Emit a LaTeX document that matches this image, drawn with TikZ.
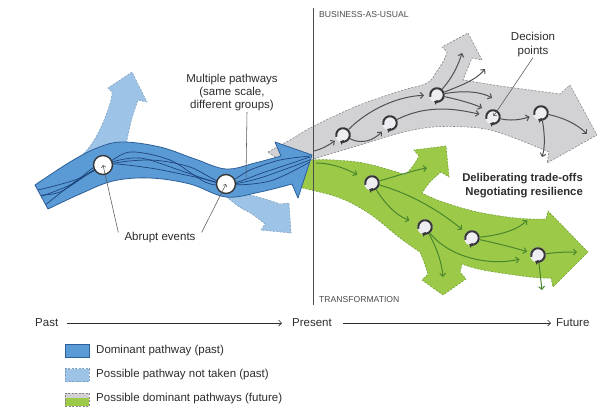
\documentclass[tikz,border=0pt]{standalone}
\usepackage{fontspec}
\setmainfont{Liberation Sans}
\usetikzlibrary{arrows.meta}
\definecolor{bandc}{RGB}{91,155,213}
\definecolor{bandedge}{RGB}{45,95,152}
\definecolor{bandline}{RGB}{30,68,125}
\definecolor{lbluec}{RGB}{157,196,230}
\definecolor{lblueedge}{RGB}{125,160,195}
\definecolor{greyc}{RGB}{210,210,212}
\definecolor{greyedge}{RGB}{135,135,138}
\definecolor{greenc}{RGB}{157,201,72}
\definecolor{greenedge}{RGB}{112,160,52}
\definecolor{garrc}{RGB}{80,80,84}
\definecolor{gnarrc}{RGB}{72,135,45}
\definecolor{cycc}{RGB}{55,55,58}
\definecolor{cycf}{RGB}{238,238,242}
\definecolor{txtc}{RGB}{45,45,45}
\newcommand\cycmark[1]{\draw[cycc,line width=2pt,-{Triangle[length=3pt,width=5pt]}] ([shift={(195:6.8pt)}]#1.center) arc[start angle=195,end angle=-115,radius=6.8pt];}
\def\bandpath{plot[smooth,tension=0.6] coordinates {(35,185) (70,162) (97,148) (122,142) (160,147) (195,159) (226,169) (255,163) (281,156)} -- (275,142) -- (312,155) -- (298,198) -- plot[smooth,tension=0.6] coordinates {(292,184) (260,192) (226,197) (190,184) (150,178) (113,181) (80,194) (48,209)} -- cycle}
\begin{document}
\begin{tikzpicture}[x=1pt,y=-1pt,
  lbl/.style={font=\fontsize{11.5}{13}\selectfont, text=txtc, inner sep=0pt},
  caplbl/.style={font=\fontsize{8.6}{10}\selectfont, text=txtc!85, inner sep=0pt},
  lbshape/.style={fill=lbluec, draw=lblueedge, line width=0.6pt, dash pattern=on 2pt off 1.5pt},
  gyshape/.style={fill=greyc, draw=greyedge, line width=0.6pt, dash pattern=on 2pt off 1.5pt},
  gnshape/.style={fill=greenc, draw=greenedge, line width=0.6pt, dash pattern=on 2pt off 1.5pt},
  dp/.style={circle, fill=cycf, minimum size=15.5pt, inner sep=0pt},
  ev/.style={circle, fill=white, draw=cycc, line width=1.4pt, minimum size=19pt, inner sep=0pt},
  garr/.style={draw=garrc, line width=1pt, -{Straight Barb[length=3pt,width=6pt]}},
  gnarr/.style={draw=gnarrc, line width=1pt, -{Straight Barb[length=3pt,width=6pt]}},
  lead/.style={draw=txtc!80, line width=0.55pt},
  leadarr/.style={draw=txtc!80, line width=0.55pt, -{Straight Barb[length=2.2pt,width=4.5pt]}},
  tline/.style={draw=txtc, line width=0.6pt, -{Straight Barb[length=3pt,width=6pt]}}]
\useasboundingbox (0,0) rectangle (608,408);
\fill[white] (0,0) rectangle (608,408);

% light blue branches (pathways not taken)
\path[lbshape] plot[smooth,tension=0.6] coordinates {(76,161) (87,150) (96,137) (105,118) (111,100) (112,92)} -- (108,88) -- (132,72) -- (147,102) -- plot[smooth,tension=0.6] coordinates {(138,100) (132,118) (128,135) (125,150)} -- cycle;
\path[lbshape] plot[smooth,tension=0.6] coordinates {(232,192) (250,195) (268,200) (280,204)} -- (289,203) -- (291,233) -- (261,230) -- plot[smooth,tension=0.6] coordinates {(265,224) (252,214) (238,206) (222,193)} -- cycle;

% grey business-as-usual
\path[gyshape] plot[smooth,tension=0.6] coordinates {(268,152) (290,140) (312,127) (357,106) (400,91) (427,83) (437,71) (444,60) (447,52)} -- (442,47) -- (468,33) -- (482,60) -- plot[smooth,tension=0.6] coordinates {(472,58) (467,70) (463,80)} -- plot[smooth,tension=0.6] coordinates {(463,80) (500,86) (530,90) (560,94)} -- (570,85) -- (597,135) -- (547,163) -- plot[smooth,tension=0.6] coordinates {(549,152) (517,139) (490,130) (467,127) (433,127) (400,133) (357,146) (317,158) (290,168)} -- cycle;

% green transformation
\path[gnshape] plot[smooth,tension=0.6] coordinates {(292,168) (313,160) (357,162) (390,170) (405,175)} -- plot[smooth,tension=0.6] coordinates {(405,175) (413,166) (419,156)} -- (414,150) -- (446,146) -- (449,177) -- plot[smooth,tension=0.6] coordinates {(441,172) (430,182) (422,193)} -- plot[smooth,tension=0.6] coordinates {(422,193) (440,201) (473,211) (507,217) (530,219) (546,219)} -- (548,211) -- (588,252) -- (553,287) -- plot[smooth,tension=0.6] coordinates {(551,278) (530,277) (483,270) (462,264)} -- (460,272) -- (466,279) -- (443,295) -- (422,280) -- plot[smooth,tension=0.6] coordinates {(428,274) (424,262) (420,252)} -- plot[smooth,tension=0.6] coordinates {(420,252) (400,238) (370,214) (340,198) (303,188) (292,185)} -- cycle;

% dominant pathway (past)
\path[fill=bandc] \bandpath;
\begin{scope}
\clip \bandpath;
\draw[bandline, line width=0.7pt] plot[smooth] coordinates {(34,199) (70,185) (103,165) (140,158) (185,172) (226,184) (265,172) (310,157)};
\draw[bandline, line width=0.7pt] plot[smooth] coordinates {(38,190) (75,180) (103,166) (130,152) (170,160) (205,182) (226,185) (260,178) (310,160)};
\draw[bandline, line width=0.7pt] plot[smooth] coordinates {(44,206) (80,178) (103,164) (150,168) (200,178) (226,183) (250,170) (280,160) (310,156)};
\draw[bandline, line width=0.7pt] plot[smooth] coordinates {(34,195) (60,192) (103,166) (150,160) (190,167) (226,184) (270,181) (310,162)};
\end{scope}
\draw[bandedge, line width=0.8pt, line join=round] \bandpath;

% vertical divider
\draw[txtc!85, line width=0.6pt] (313,8) -- (313,305);

% abrupt events
\node[ev] (e1) at (103,165) {};
\node[ev] (e2) at (226,184) {};

% decision points (grey)
\node[dp] (c1) at (343,135) {};
\node[dp] (c2) at (390,123) {};
\node[dp] (c3) at (437,95) {};
\node[dp] (c4) at (493,117) {};
\node[dp] (c5) at (541,113) {};
% decision points (green)
\node[dp] (g1) at (372,183) {};
\node[dp] (g2) at (425,227) {};
\node[dp] (g3) at (472,238) {};
\node[dp] (g4) at (538,255) {};
\foreach \n in {c1,c2,c3,c4,c5,g1,g2,g3,g4} {\cycmark{\n}}

% free ends
\coordinate (bt) at (314,151);
\coordinate (bt2) at (316,163);
\coordinate (ge) at (462,53);
\coordinate (gf) at (485,69);
\coordinate (gg) at (492,98);
\coordinate (gh) at (482,108);
\coordinate (gj) at (587,134);
\coordinate (gk) at (542,157);
\coordinate (nb) at (427,168);
\coordinate (ne) at (443,277);
\coordinate (ng) at (527,220);
\coordinate (ni) at (577,252);
\coordinate (nj) at (542,290);

% grey arrows
\draw[garr, shorten >=2pt] (bt) .. controls (322,149) and (329,145) .. (c1);
\draw[garr, shorten >=5pt] (c1) .. controls (370,108) and (400,96) .. (c3);
\draw[garr, shorten >=4pt] (c1) .. controls (362,145) and (374,140) .. (c2);
\draw[garr, shorten >=6pt] (c2) .. controls (430,103) and (460,110) .. (c4);
\draw[garr] (c3) .. controls (452,78) and (458,66) .. (ge);
\draw[garr] (c3) .. controls (462,85) and (476,80) .. (gf);
\draw[garr] (c3) .. controls (465,90) and (482,92) .. (gg);
\draw[garr] (c3) .. controls (460,100) and (474,104) .. (gh);
\draw[garr, shorten >=4pt] (c4) .. controls (510,121) and (520,120) .. (c5);
\draw[garr] (c5) .. controls (565,118) and (578,125) .. (gj);
\draw[garr] (c5) .. controls (545,135) and (545,148) .. (gk);

% green arrows
\draw[gnarr, shorten >=9pt] (bt2) .. controls (330,163) and (345,168) .. (g1);
\draw[gnarr] (g1) .. controls (400,175) and (415,170) .. (nb);
\draw[gnarr, shorten >=9pt] (g1) .. controls (386,205) and (396,215) .. (g2);
\draw[gnarr, shorten >=5pt] (g1) .. controls (415,195) and (445,215) .. (g3);
\draw[gnarr] (g2) .. controls (438,250) and (442,265) .. (ne);
\draw[gnarr, shorten >=11pt] (g2) .. controls (450,258) and (490,266) .. (g4);
\draw[gnarr] (g3) .. controls (500,235) and (518,230) .. (ng);
\draw[gnarr, shorten >=3.5pt] (g3) .. controls (500,244) and (515,248) .. (g4);
\draw[gnarr] (g4) .. controls (558,252) and (568,252) .. (ni);
\draw[gnarr] (g4) .. controls (540,272) and (541,282) .. (nj);

% labels
\node[caplbl, anchor=west] (bau) at (319,14.5) {BUSINESS-AS-USUAL};
\node[caplbl, anchor=west] (trf) at (319,300) {TRANSFORMATION};
\node[lbl, align=center] (mp) at (232,93) {Multiple pathways\\(same scale,\\different groups)};
\draw[lead] (247,112) -- (246,177);
\node[lbl] (ab) at (160,238) {Abrupt events};
\draw[leadarr] ([xshift=-6pt]ab.north west) -- (e1.center);
\draw[leadarr] ([xshift=6pt]ab.north east) -- (e2.center);
\node[lbl, align=center, font=\fontsize{11.5}{14}\selectfont] (dec) at (533,45) {Decision\\points};
\draw[leadarr, shorten >=1pt] (dec.south) -- (c4.center);
\node[lbl, align=right, anchor=east, font=\fontsize{11.3}{14}\selectfont\bfseries] (dt) at (583,186) {Deliberating trade-offs\\Negotiating resilience};

% timeline
\node[lbl, anchor=west] (past) at (35,323) {Past};
\node[lbl, anchor=west] (pres) at (292,323) {Present};
\node[lbl, anchor=west] (fut) at (556,323) {Future};
\draw[tline] ([xshift=9pt]past.east) -- ([xshift=-10pt]pres.west);
\draw[tline] ([xshift=11pt]pres.east) -- ([xshift=-5pt]fut.west);

% legend
\node[fill=bandc, draw=bandedge, line width=0.6pt, minimum width=24pt, minimum height=13pt, inner sep=0pt] (s1) at (77,350.5) {};
\node[lbl, anchor=west] (l1) at (96,350.5) {Dominant pathway (past)};
\node[lbshape, minimum width=24pt, minimum height=13pt, inner sep=0pt] (s2) at (77,375) {};
\node[lbl, anchor=west] (l2) at (96,375) {Possible pathway not taken (past)};
\fill[greyc] (65,393) rectangle (89,398);
\fill[greenc] (65,398) rectangle (89,406);
\node[draw=greyedge, line width=0.6pt, dash pattern=on 2pt off 1.5pt, minimum width=24pt, minimum height=13pt, inner sep=0pt] (s3) at (77,399.5) {};
\node[lbl, anchor=west] (l3) at (96,398.5) {Possible dominant pathways (future)};
\end{tikzpicture}
\end{document}
